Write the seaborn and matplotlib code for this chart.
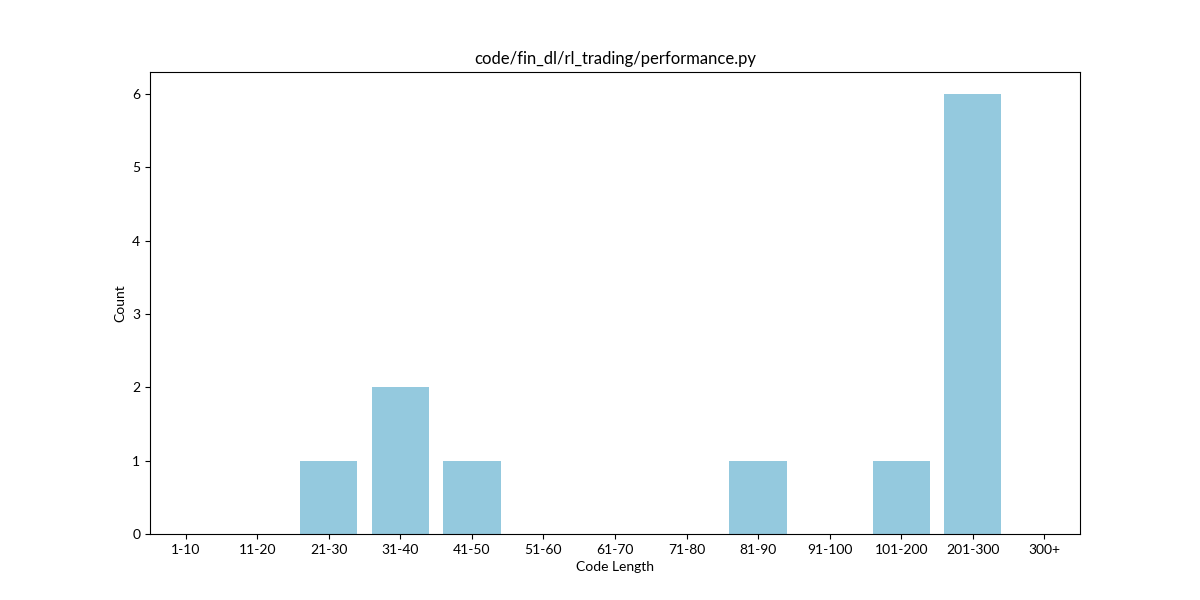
import pandas as pd
import matplotlib
matplotlib.use("Agg")
import matplotlib.pyplot as plt
import seaborn as sns

# code length buckets and how many functions fall in each
length_bins = ['1-10', '11-20', '21-30', '31-40', '41-50', '51-60', '61-70',
               '71-80', '81-90', '91-100', '101-200', '201-300', '300+']
counts = [0, 0, 1, 2, 1, 0, 0, 0, 1, 0, 1, 6, 0]

df = pd.DataFrame({'Code Length': length_bins, 'Count': counts})

plt.rcParams['font.family'] = ['Lato', 'DejaVu Sans']

fig, ax = plt.subplots(figsize=(12, 6), dpi=100)
sns.barplot(x='Code Length', y='Count', data=df, color='skyblue', ax=ax)
ax.set_title('code/fin_dl/rl_trading/performance.py')
ax.set_xlabel('Code Length')
ax.set_ylabel('Count')

fig.savefig('out.png')
